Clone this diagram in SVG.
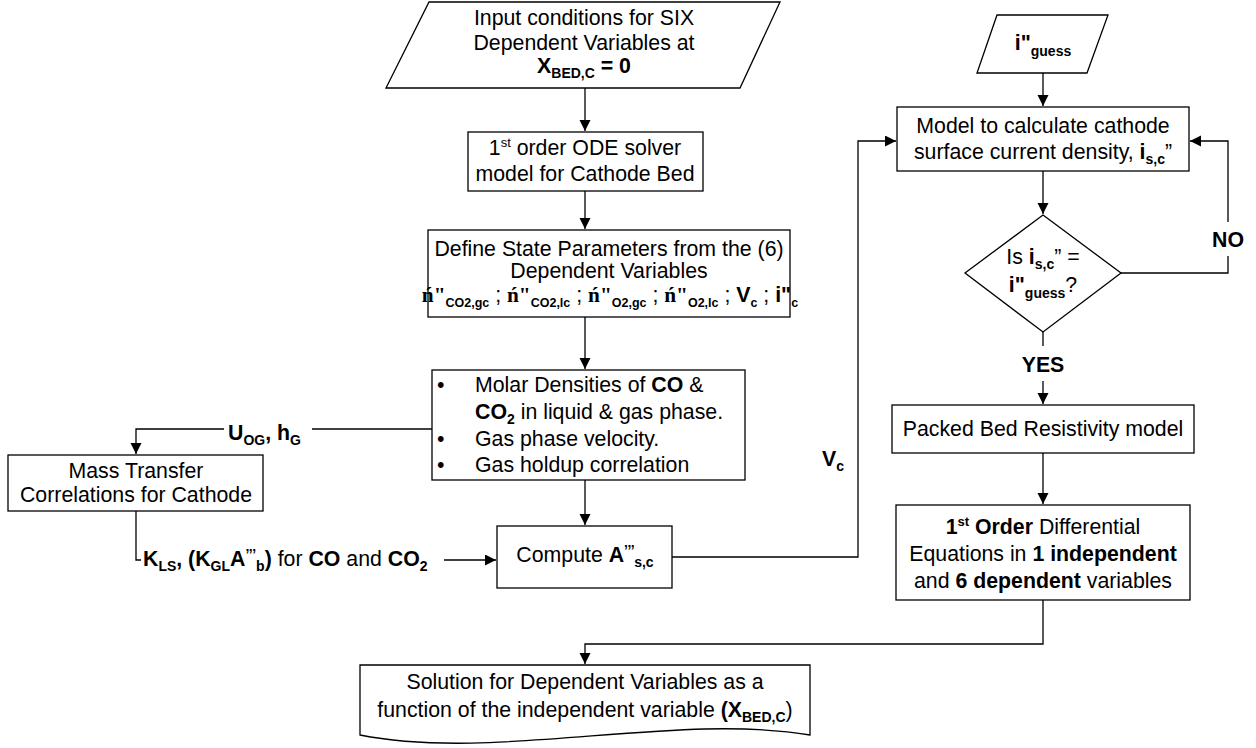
<svg xmlns="http://www.w3.org/2000/svg" width="1256" height="748" viewBox="0 0 1256 748">
<style>
text{font-family:"Liberation Sans",Arial,sans-serif;font-size:21.3px;fill:#000}
.b{font-weight:bold}
.s{font-size:14px;font-weight:bold}
.s2{font-size:12.5px;font-weight:bold}
.sr{font-family:"Liberation Serif","Times New Roman",serif;font-weight:bold}
.box{fill:#fff;stroke:#000;stroke-width:1.3}
.ln{fill:none;stroke:#000;stroke-width:1.3}
.m{text-anchor:middle}
</style>
<defs>
<marker id="ar" markerUnits="userSpaceOnUse" markerWidth="12" markerHeight="12" refX="11" refY="5.5" orient="auto">
<path d="M0,0 L11,5.5 L0,11 z" fill="#000"/>
</marker>
</defs>
<rect width="1256" height="748" fill="#fff"/>

<g id="connectors">
<path class="ln" d="M585,88 V131" marker-end="url(#ar)"/>
<path class="ln" d="M585,191 V229" marker-end="url(#ar)"/>
<path class="ln" d="M585,317 V369" marker-end="url(#ar)"/>
<path class="ln" d="M585,480 V525" marker-end="url(#ar)"/>
<path class="ln" d="M432,429 H312"/>
<path class="ln" d="M224,429 H136 V454" marker-end="url(#ar)"/>
<path class="ln" d="M136,511 V560 H141"/>
<path class="ln" d="M444,560 H496" marker-end="url(#ar)"/>
<path class="ln" d="M672,557 H858 V141 H896" marker-end="url(#ar)"/>
<path class="ln" d="M1043,73 V106" marker-end="url(#ar)"/>
<path class="ln" d="M1043,171 V214" marker-end="url(#ar)"/>
<path class="ln" d="M1121,273 H1228 V256"/>
<path class="ln" d="M1228,222 V141 H1190" marker-end="url(#ar)"/>
<path class="ln" d="M1043,332 V346"/>
<path class="ln" d="M1043,381 V404" marker-end="url(#ar)"/>
<path class="ln" d="M1043,453 V504" marker-end="url(#ar)"/>
<path class="ln" d="M1043,600 V644 H585 V664" marker-end="url(#ar)"/>
<text class="b" x="228" y="440">U<tspan class="s" dy="5">OG</tspan><tspan dy="-5">, h</tspan><tspan class="s" dy="5">G</tspan></text>
<text x="143" y="566"><tspan class="b">K</tspan><tspan class="s" dy="5">LS</tspan><tspan class="b" dy="-5">, (K</tspan><tspan class="s" dy="5">GL</tspan><tspan class="b" dy="-5">A</tspan><tspan class="s" dy="-7">’’’</tspan><tspan class="s" dy="12">b</tspan><tspan class="b" dy="-5">)</tspan> for <tspan class="b">CO</tspan> and <tspan class="b">CO</tspan><tspan class="s" dy="5">2</tspan></text>
<text class="b" x="822" y="466">V<tspan class="s" dy="5">c</tspan></text>
<text class="b m" x="1228" y="247">NO</text>
<text class="b m" x="1043" y="372">YES</text>
</g>

<g id="input">
<polygon class="box" points="429,2 780,2 740,88 386,88"/>
<text class="m" x="584" y="25">Input conditions for SIX</text>
<text class="m" x="584" y="50">Dependent Variables at</text>
<text class="m b" x="584" y="73">X<tspan class="s" dy="5">BED,C</tspan><tspan dy="-5"> = 0</tspan></text>
</g>

<g id="ode">
<rect class="box" x="468" y="132" width="235" height="59"/>
<text class="m" x="585" y="155">1<tspan font-size="13" dy="-8">st</tspan><tspan dy="8"> order ODE solver</tspan></text>
<text class="m" x="585" y="181">model for Cathode Bed</text>
</g>

<g id="define">
<rect class="box" x="428" y="230" width="362" height="87"/>
<text class="m" x="609" y="256">Define State Parameters from the (6)</text>
<text class="m" x="609" y="278">Dependent Variables</text>
<text class="m" x="610" y="302" font-size="19.5"><tspan class="sr">ń"</tspan><tspan class="s2" dy="5">CO2,gc</tspan><tspan dy="-5"> ; </tspan><tspan class="sr">ń"</tspan><tspan class="s2" dy="5">CO2,lc</tspan><tspan dy="-5"> ; </tspan><tspan class="sr">ń"</tspan><tspan class="s2" dy="5">O2,gc</tspan><tspan dy="-5"> ; </tspan><tspan class="sr">ń"</tspan><tspan class="s2" dy="5">O2,lc</tspan><tspan dy="-5"> ; </tspan><tspan class="b">V</tspan><tspan class="s2" dy="5">c</tspan><tspan dy="-5"> ; </tspan><tspan class="b">i"</tspan><tspan class="s2" dy="5">c</tspan></text>
</g>

<g id="molar">
<rect class="box" x="432" y="370" width="313" height="110"/>
<text x="437" y="392">•</text>
<text x="475" y="392">Molar Densities of <tspan class="b">CO</tspan> &amp;</text>
<text x="475" y="419"><tspan class="b">CO</tspan><tspan class="s" dy="5">2</tspan><tspan dy="-5"> in liquid &amp; gas phase.</tspan></text>
<text x="437" y="446">•</text>
<text x="475" y="446">Gas phase velocity.</text>
<text x="437" y="472">•</text>
<text x="475" y="472">Gas holdup correlation</text>
</g>

<g id="masstransfer">
<rect class="box" x="8" y="455" width="255" height="56"/>
<text class="m" x="136" y="478">Mass Transfer</text>
<text class="m" x="136" y="502">Correlations for Cathode</text>
</g>

<g id="compute">
<rect class="box" x="497" y="526" width="175" height="62"/>
<text class="m" x="585" y="562">Compute <tspan class="b">A</tspan><tspan class="s" dy="-7">’’’</tspan><tspan class="s" dy="12">s,c</tspan></text>
</g>

<g id="guess">
<polygon class="box" points="997,15 1108,15 1087,73 977,73"/>
<text class="m b" x="1043" y="50">i"<tspan class="s" dy="6">guess</tspan></text>
</g>

<g id="model">
<rect class="box" x="897" y="107" width="292" height="64"/>
<text class="m" x="1043" y="133">Model to calculate cathode</text>
<text class="m" x="1043" y="159">surface current density, <tspan class="b">i</tspan><tspan class="s" dy="5">s,c</tspan><tspan dy="-5">”</tspan></text>
</g>

<g id="decision">
<polygon class="box" points="1043,215 1121,273 1043,332 965,273"/>
<text class="m" x="1043" y="264">Is <tspan class="b">i</tspan><tspan class="s" dy="5">s,c</tspan><tspan dy="-5">” =</tspan></text>
<text class="m" x="1043" y="292"><tspan class="b">i"</tspan><tspan class="s" dy="6">guess</tspan><tspan dy="-6">?</tspan></text>
</g>

<g id="packed">
<rect class="box" x="892" y="405" width="302" height="48"/>
<text class="m" x="1043" y="436">Packed Bed Resistivity model</text>
</g>

<g id="firstorder">
<rect class="box" x="896" y="505" width="294" height="95"/>
<text class="m" x="1043" y="534"><tspan class="b">1</tspan><tspan class="b" font-size="13" dy="-8">st</tspan><tspan class="b" dy="8"> Order</tspan> Differential</text>
<text class="m" x="1043" y="561">Equations in <tspan class="b">1 independent</tspan></text>
<text class="m" x="1043" y="588">and <tspan class="b">6 dependent</tspan> variables</text>
</g>

<g id="solution">
<path class="box" d="M360,665 H810 V735 C675,712 495,762 360,735 Z"/>
<text class="m" x="585" y="689">Solution for Dependent Variables as a</text>
<text class="m" x="585" y="717">function of the independent variable <tspan class="b">(X</tspan><tspan class="s" dy="5">BED,C</tspan><tspan dy="-5">)</tspan></text>
</g>
</svg>
